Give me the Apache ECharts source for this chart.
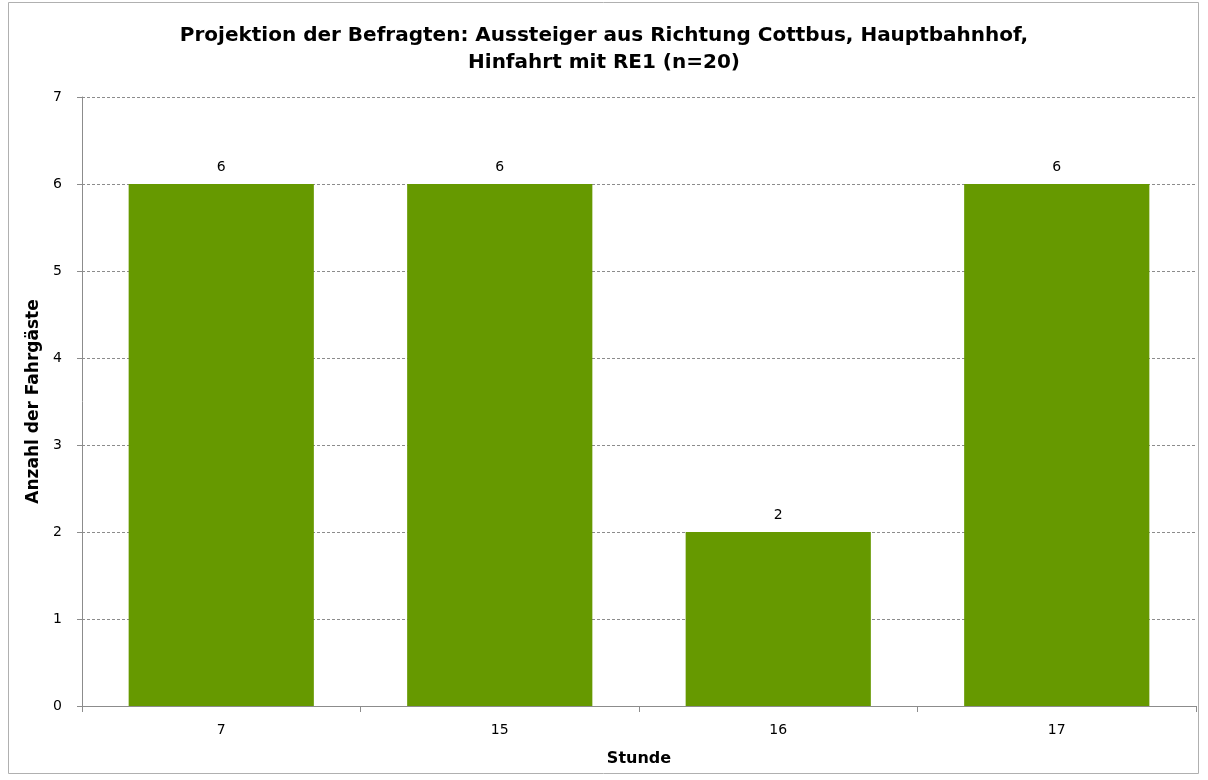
<!DOCTYPE html>
<html><head><meta charset="utf-8">
<script src="https://cdn.jsdelivr.net/npm/echarts@6/dist/echarts.min.js"></script>
<style>html,body{margin:0;padding:0;background:#fff}#c{width:1208px;height:780px}</style>
</head><body><div id="c"></div>
<script>
const categories = ['7', '15', '16', '17'];
const values = [6, 6, 2, 6];
const yTicks = [0, 1, 2, 3, 4, 5, 6, 7];
const titleText = 'Projektion der Befragten: Aussteiger aus Richtung Cottbus, Hauptbahnhof,\nHinfahrt mit RE1 (n=20)';
const FONT = 'DejaVu Sans';
const chart = echarts.init(document.getElementById('c'), null, {renderer: 'canvas'});
chart.setOption({
  animation: false,
  backgroundColor: '#fff',
  graphic: [{type: 'rect', shape: {x: 8.5, y: 2.5, width: 1190, height: 771}, style: {fill: 'none', stroke: '#b0b0b0', lineWidth: 1}}],
  title: {text: titleText, left: 'center', top: 17, textStyle: {fontFamily: FONT, fontSize: 20, fontWeight: 'bold', color: '#000', lineHeight: 27}},
  grid: {left: 82, right: 12, top: 97, bottom: 74},
  xAxis: {
    type: 'category', data: categories, name: 'Stunde', nameLocation: 'middle', nameGap: 45,
    nameTextStyle: {fontFamily: FONT, fontSize: 16, fontWeight: 'bold', color: '#000'},
    axisLine: {lineStyle: {color: '#8c8c8c'}},
    axisTick: {show: true, alignWithLabel: false, length: 6, lineStyle: {color: '#8c8c8c'}},
    axisLabel: {fontFamily: FONT, fontSize: 14, color: '#000', margin: 17}
  },
  yAxis: {
    type: 'value', min: 0, max: 7, interval: 1, name: 'Anzahl der Fahrgäste', nameLocation: 'middle', nameGap: 37,
    nameTextStyle: {fontFamily: FONT, fontSize: 17, fontWeight: 'bold', color: '#000'},
    axisLine: {show: true, lineStyle: {color: '#8c8c8c'}},
    axisTick: {show: true, length: 5, lineStyle: {color: '#8c8c8c'}},
    axisLabel: {fontFamily: FONT, fontSize: 14, color: '#000', margin: 20, formatter: v => yTicks.includes(v) ? String(v) : ''},
    splitLine: {lineStyle: {color: '#8c8c8c', type: [3, 2]}}
  },
  series: [{
    type: 'bar', data: values, barWidth: '66.5%',
    itemStyle: {color: '#669900'},
    label: {show: true, position: 'top', distance: 10, fontFamily: FONT, fontSize: 14, color: '#000'}
  }]
});
</script></body></html>
